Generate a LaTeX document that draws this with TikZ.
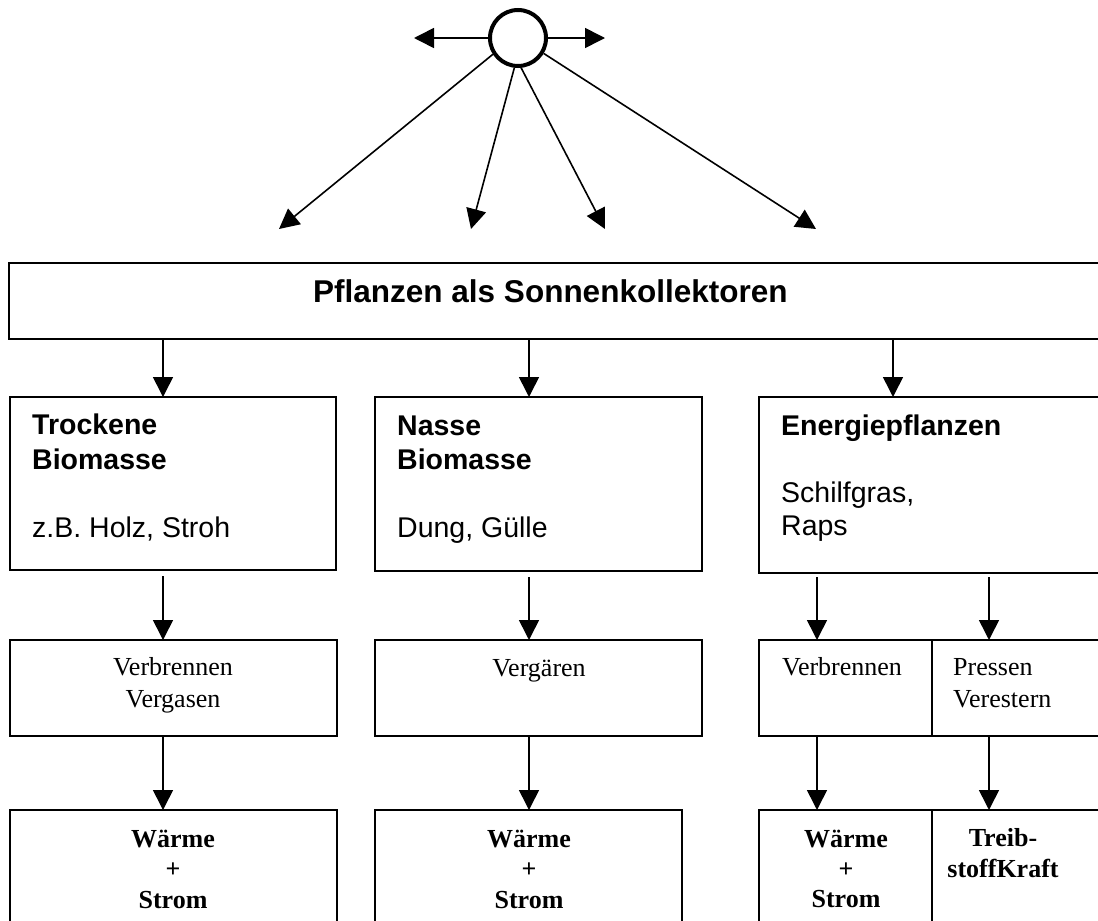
\documentclass[tikz,border=0pt]{standalone}
\usepackage{fontspec}
\setmainfont{Liberation Serif}
\newfontfamily\arialf{Liberation Sans}
\usetikzlibrary{arrows.meta}
\begin{document}
\begin{tikzpicture}[x=1pt,y=-1pt,
  box/.style={draw, line width=1.6pt, inner sep=0pt, outer sep=0pt, anchor=north west},
  arr/.style={line width=1.6pt, -{Triangle[length=20pt,width=20pt]}},
  sansb/.style={font=\arialf\bfseries\fontsize{28.5}{34}\selectfont, inner sep=0pt, anchor=base west},
  sansr/.style={font=\arialf\fontsize{28.5}{34}\selectfont, inner sep=0pt, anchor=base west},
  serr/.style={font=\fontsize{26}{30}\selectfont, inner sep=0pt, anchor=base},
  serb/.style={font=\bfseries\fontsize{26}{30}\selectfont, inner sep=0pt, anchor=base}]
\useasboundingbox (0,0) rectangle (1098,921);
\clip (0,0) rectangle (1098,921);

% sun
\node[circle, draw, line width=4pt, minimum size=56pt, inner sep=0pt] (sun) at (518,38) {};
\coordinate (lt) at (414,38);
\coordinate (rt) at (605,38);
\coordinate (t1) at (279,229);
\coordinate (t2) at (471,229);
\coordinate (t3) at (605,229);
\coordinate (t4) at (816,229);
\draw[arr] (sun.west) -- (lt);
\draw[arr] (sun.east) -- (rt);
\draw[arr] (sun.213) -- (t1);
\draw[arr] (sun.263) -- (t2);
\draw[arr] (sun.276) -- (t3);
\draw[arr] (sun.329) -- (t4);

% main box
\node[box, minimum width=1091pt, minimum height=76pt] (main) at (9,263) {};
\node[font=\arialf\bfseries\fontsize{31.5}{36}\selectfont, inner sep=0pt, anchor=base west] (mt) at (313,302) {Pflanzen als Sonnenkollektoren};

% row 2
\node[box, minimum width=326pt, minimum height=173pt] (b1) at (10,397) {};
\node[box, minimum width=327pt, minimum height=174pt] (b2) at (375,397) {};
\node[box, minimum width=360pt, minimum height=176pt] (b3) at (759,397) {};
\node[sansb] (b1a) at (32,434) {Trockene};
\node[sansb] (b1b) at (32,469) {Biomasse};
\node[sansr] (b1c) at (32,537) {z.B. Holz, Stroh};
\node[sansb] (b2a) at (397,435) {Nasse};
\node[sansb] (b2b) at (397,469) {Biomasse};
\node[sansr] (b2c) at (397,537) {Dung, Gülle};
\node[sansb] (b3a) at (781,435) {Energiepflanzen};
\node[sansr] (b3b) at (781,502) {Schilfgras,};
\node[sansr] (b3c) at (781,535) {Raps};

% row 3
\node[box, minimum width=327pt, minimum height=96pt] (p1) at (10,640) {};
\node[box, minimum width=327pt, minimum height=96pt] (p2) at (375,640) {};
\node[box, minimum width=173pt, minimum height=96pt] (p3a) at (759,640) {};
\node[box, minimum width=180pt, minimum height=96pt] (p3b) at (932,640) {};
\node[serr] (p1a) at (173,675) {Verbrennen};
\node[serr] (p1b) at (173,707) {Vergasen};
\node[serr] (p2a) at (539,676) {Vergären};
\node[serr] (p3aa) at (842,675) {Verbrennen};
\node[serr, anchor=base west] (p3ba) at (953,675) {Pressen};
\node[serr, anchor=base west] (p3bb) at (953,707) {Verestern};

% row 4
\node[box, minimum width=327pt, minimum height=150pt] (r1) at (10,810) {};
\node[box, minimum width=307pt, minimum height=150pt] (r2) at (375,810) {};
\node[box, minimum width=173pt, minimum height=150pt] (r3a) at (759,810) {};
\node[box, minimum width=180pt, minimum height=150pt] (r3b) at (932,810) {};
\node[serb] (r1a) at (173,847) {Wärme};
\node[serb] (r1b) at (173,877) {+};
\node[serb] (r1c) at (173,908) {Strom};
\node[serb] (r2a) at (529,847) {Wärme};
\node[serb] (r2b) at (529,877) {+};
\node[serb] (r2c) at (529,908) {Strom};
\node[serb] (r3aa) at (846,847) {Wärme};
\node[serb] (r3ab) at (846,877) {+};
\node[serb] (r3ac) at (846,907) {Strom};
\node[serb] (r3ba) at (1003,846) {Treib-};
\node[serb] (r3bb) at (1003,877) {stoffKraft};

% arrow columns
\coordinate (c1) at (163,0);
\coordinate (c2) at (529,0);
\coordinate (c3) at (893,0);
\coordinate (c4) at (817,0);
\coordinate (c5) at (989,0);

\draw[arr] (main.south -| c1) -- (b1.north -| c1);
\draw[arr] (main.south -| c2) -- (b2.north -| c2);
\draw[arr] (main.south -| c3) -- (b3.north -| c3);

\draw[arr, shorten <=6pt] (b1.south -| c1) -- (p1.north -| c1);
\draw[arr, shorten <=6pt] (b2.south -| c2) -- (p2.north -| c2);
\draw[arr, shorten <=4pt] (b3.south -| c4) -- (p3a.north -| c4);
\draw[arr, shorten <=4pt] (b3.south -| c5) -- (p3b.north -| c5);

\draw[arr] (p1.south -| c1) -- (r1.north -| c1);
\draw[arr] (p2.south -| c2) -- (r2.north -| c2);
\draw[arr] (p3a.south -| c4) -- (r3a.north -| c4);
\draw[arr] (p3b.south -| c5) -- (r3b.north -| c5);
\end{tikzpicture}
\end{document}
